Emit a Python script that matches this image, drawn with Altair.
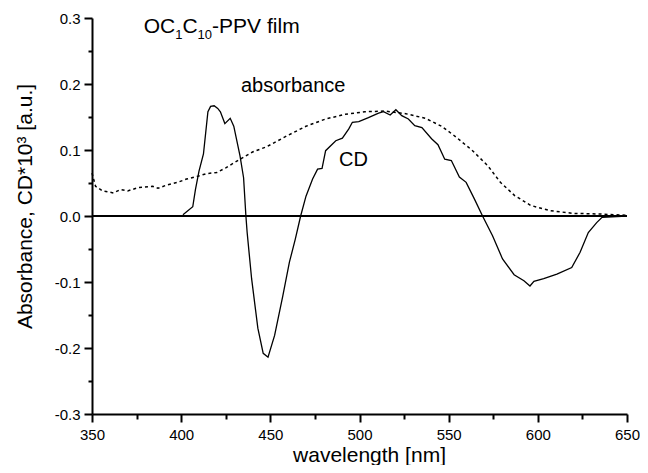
import altair as alt
import pandas as pd

# ---- data ----
abs_wl = [350, 352, 356, 362, 366, 370, 376, 384, 387, 392, 398, 403, 409, 414, 420,
          425, 433, 440, 448, 459, 470, 481, 492, 503, 514, 526, 537, 546, 553, 563,
          572, 579, 587, 596, 607, 620, 635, 650]
abs_val = [0.065, 0.045, 0.038, 0.035, 0.040, 0.038, 0.043, 0.045, 0.042, 0.047, 0.051,
           0.056, 0.060, 0.064, 0.066, 0.073, 0.086, 0.097, 0.105, 0.121, 0.136, 0.147,
           0.154, 0.158, 0.159, 0.155, 0.148, 0.136, 0.122, 0.100, 0.076, 0.051, 0.031,
           0.016, 0.008, 0.004, 0.003, 0.001]

cd_wl = [401, 406.5, 408, 410, 412.5, 415, 416.5, 418.5, 420.5, 422, 424.5, 427.5, 429.5,
         433, 435, 436.3, 437, 439.5, 443, 446, 448.7, 452.4, 457, 460.7, 464, 467, 470,
         473.7, 476.5, 479, 481, 486.7, 490.4, 494, 496, 499.6, 505, 510.7, 513.5, 517.2,
         520.4, 523.7, 527.4, 531, 535, 540.4, 544, 547.8, 551.5, 556, 559.8, 564.4, 569,
         574.6, 580.2, 586.7, 592.2, 595.6, 597.8, 603.3, 610.7, 619, 623.7, 628.3, 633,
         636, 650]
cd_val = [0.002, 0.014, 0.040, 0.068, 0.094, 0.158, 0.166, 0.167, 0.163, 0.158, 0.140,
          0.148, 0.136, 0.091, 0.058, 0.0, -0.025, -0.095, -0.170, -0.208, -0.214, -0.181,
          -0.121, -0.070, -0.035, 0.0, 0.030, 0.056, 0.071, 0.072, 0.099, 0.114, 0.118,
          0.132, 0.142, 0.143, 0.149, 0.156, 0.158, 0.153, 0.161, 0.152, 0.147, 0.137,
          0.134, 0.117, 0.108, 0.086, 0.084, 0.059, 0.051, 0.026, 0.0, -0.030, -0.065,
          -0.089, -0.098, -0.106, -0.099, -0.095, -0.088, -0.078, -0.055, -0.025, -0.010,
          -0.002, 0.0]

zero_wl = [350, 650]
zero_val = [0.0, 0.0]

x_major = [350, 400, 450, 500, 550, 600, 650]
x_minor = [375, 425, 475, 525, 575, 625]
y_major = [-0.3, -0.2, -0.1, 0.0, 0.1, 0.2, 0.3]
y_minor = [-0.25, -0.15, -0.05, 0.05, 0.15, 0.25]

ann_labels = ["absorbance", "CD"]
ann_wl = [433.5, 488.5]
ann_val = [0.188, 0.076]

title_parts = ["OC", "1", "C", "10", "-PPV film"]
title_wl = 379.0
title_val = 0.277

x_title = "wavelength [nm]"
y_title = "Absorbance, CD*10\u00b3 [a.u.]"

FONT = "Liberation Sans"

x_scale = alt.Scale(domain=[350, 650], nice=False, zero=False)
y_scale = alt.Scale(domain=[-0.3, 0.3], nice=False, zero=False)

x_axis = alt.Axis(
    orient="bottom", values=x_major, title=x_title, format="d",
    tickSize=8, tickWidth=2, domainWidth=2, domainColor="black", tickColor="black",
    labelFont=FONT, labelFontSize=15, labelColor="black", labelPadding=5,
    labelFlush=False, labelOverlap=False, grid=False,
    titleFont=FONT, titleFontSize=21, titleFontWeight="normal", titleColor="black",
    titleX=277, titleY=47, titleBaseline="alphabetic", titleAlign="center",
)
y_axis = alt.Axis(
    orient="left", values=y_major, title=y_title,
    labelExpr="replace(format(datum.value, '.1f'), '\u2212', '-')",
    tickSize=8, tickWidth=2, domainWidth=2, domainColor="black", tickColor="black",
    labelFont=FONT, labelFontSize=15, labelColor="black", labelPadding=4,
    labelFlush=False, labelOverlap=False, grid=False,
    titleFont=FONT, titleFontSize=21, titleFontWeight="normal", titleColor="black",
    titleX=-61, titleY=188, titleBaseline="alphabetic", titleAlign="center", titleAngle=-90,
)
x_axis_minor = alt.Axis(
    orient="bottom", values=x_minor, title=None, labels=False, domain=False, grid=False,
    tickSize=5, tickWidth=2, tickColor="black",
)
y_axis_minor = alt.Axis(
    orient="left", values=y_minor, title=None, labels=False, domain=False, grid=False,
    tickSize=4, tickWidth=2, tickColor="black",
)

X_main = alt.X("wl:Q", scale=x_scale, axis=x_axis)
Y_main = alt.Y("v:Q", scale=y_scale, axis=y_axis)
X_minor = alt.X("wl:Q", scale=x_scale, axis=x_axis_minor)
Y_minor = alt.Y("v:Q", scale=y_scale, axis=y_axis_minor)
X = alt.X("wl:Q", scale=x_scale, axis=None)
Y = alt.Y("v:Q", scale=y_scale, axis=None)

zero_df = pd.DataFrame({"wl": zero_wl, "v": zero_val})
abs_df = pd.DataFrame({"wl": abs_wl, "v": abs_val})
cd_df = pd.DataFrame({"wl": cd_wl, "v": cd_val})
ann_df = pd.DataFrame({"wl": ann_wl, "v": ann_val, "label": ann_labels})

zero_line = alt.Chart(zero_df).mark_line(color="black", strokeWidth=1.8).encode(x=X_main, y=Y_main)
abs_line = alt.Chart(abs_df).mark_line(color="black", strokeWidth=1.5, strokeDash=[3, 3]).encode(x=X_minor, y=Y_minor)
cd_line = alt.Chart(cd_df).mark_line(color="black", strokeWidth=1.3).encode(x=X, y=Y)

ann = alt.Chart(ann_df).mark_text(
    font=FONT, fontSize=20, align="left", baseline="alphabetic", color="black"
).encode(x=X, y=Y, text="label:N")

sizes = [21, 13, 21, 13, 21]
dxs = [0, 31.5, 38.7, 53.9, 68.4]
dys = [0, 6, 0, 6, 0]
title_layers = []
for part, fs, dx, dy in zip(title_parts, sizes, dxs, dys):
    df = pd.DataFrame({"wl": [title_wl], "v": [title_val], "label": [part]})
    title_layers.append(
        alt.Chart(df).mark_text(
            font=FONT, fontSize=fs, align="left", baseline="alphabetic",
            color="black", dx=dx, dy=dy
        ).encode(x=X, y=Y, text="label:N")
    )

chart = alt.layer(zero_line, abs_line, cd_line, ann, *title_layers).resolve_axis(
    x="independent", y="independent"
).properties(
    width=535, height=396,
    autosize=alt.AutoSizeParams(type="none"),
    padding={"left": 84, "top": 10, "right": 13, "bottom": 51},
    background="white",
).configure_view(stroke=None)

chart.save("out.html", embed_options={"renderer": "svg", "actions": False})
